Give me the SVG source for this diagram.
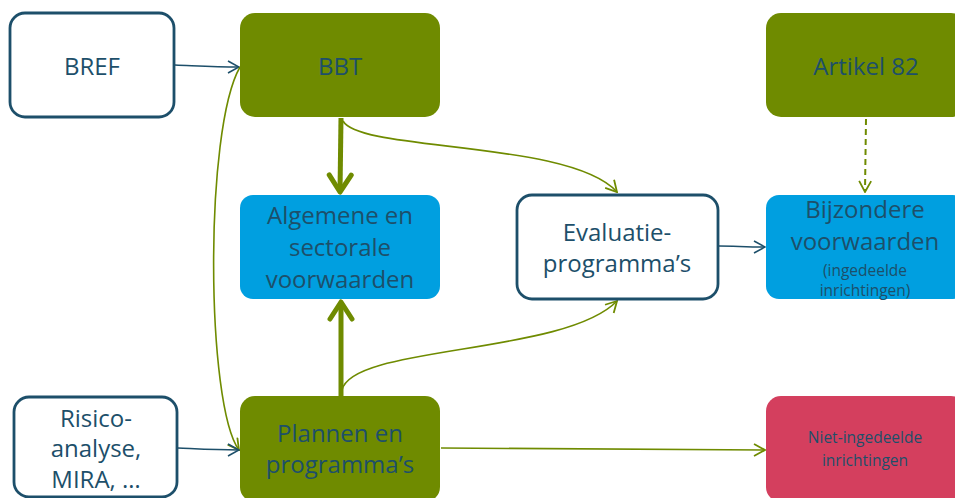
<svg xmlns="http://www.w3.org/2000/svg" width="955" height="498" viewBox="0 0 955 498">
<defs>
<style>
text{font-family:"Open Sans","Noto Sans","Liberation Sans",sans-serif;fill:#1d4f6a;text-anchor:middle}
.big{font-size:24px}
.small{font-size:15.5px}
.white{fill:#ffffff;stroke:#1d4f6a;stroke-width:2.8}
.olive{fill:#6f8b00}
.blue{fill:#009fe0}
.red{fill:#d43f5e}
.cb{fill:none;stroke:#1d4f6a;stroke-width:1.6}
.cg{fill:none;stroke:#6f8b00;stroke-width:1.6}
.cgt{fill:none;stroke:#6f8b00;stroke-width:5}
.cgd{fill:none;stroke:#6f8b00;stroke-width:2;stroke-dasharray:6 4}
</style>
<marker id="ab" viewBox="0 0 14 14" refX="13" refY="7" markerWidth="14" markerHeight="14" markerUnits="userSpaceOnUse" orient="auto"><path d="M2,1 L13,7 L2,13" fill="none" stroke="#1d4f6a" stroke-width="1.6"/></marker>
<marker id="ag" viewBox="0 0 14 14" refX="13" refY="7" markerWidth="14" markerHeight="14" markerUnits="userSpaceOnUse" orient="auto"><path d="M2,1 L13,7 L2,13" fill="none" stroke="#6f8b00" stroke-width="1.8"/></marker>
<marker id="agt" viewBox="0 0 26 28" refX="22" refY="14" markerWidth="26" markerHeight="28" markerUnits="userSpaceOnUse" orient="auto"><path d="M5,3 L22,14 L5,25" fill="none" stroke="#6f8b00" stroke-width="5" stroke-linecap="round" stroke-linejoin="round"/></marker>
</defs>
<g id="connectors">
<path class="cb" d="M175,65 C200,66 215,67 239,67" marker-end="url(#ab)"/>
<path class="cgt" d="M341,118 L340,192" marker-end="url(#agt)"/>
<path class="cgt" d="M341,397 L341,302" marker-end="url(#agt)"/>
<path class="cg" d="M343,121 C360,152 570,140 617,192" marker-end="url(#ag)"/>
<path class="cg" d="M342,390 C352,345 565,355 617,301" marker-end="url(#ag)"/>
<path class="cg" d="M240,67 C204,130 206,405 239,450" marker-end="url(#ag)"/>
<path class="cgd" d="M866,119 L865,192" marker-end="url(#ag)"/>
<path class="cb" d="M719,246 C735,246 745,247 765,247" marker-end="url(#ab)"/>
<path class="cb" d="M178,448 C200,449 215,450 239,450" marker-end="url(#ab)"/>
<path class="cg" d="M441,448 C600,449 700,450 765,450" marker-end="url(#ag)"/>
</g>
<g id="bref"><rect class="white" x="10" y="13" width="164" height="104" rx="15"/><text class="big" x="92" y="75">BREF</text></g>
<g id="bbt"><rect class="olive" x="240" y="13" width="200" height="104" rx="15"/><text class="big" x="340" y="75">BBT</text></g>
<g id="artikel82"><rect class="olive" x="766" y="13" width="200" height="104" rx="15"/><text class="big" x="866" y="75">Artikel 82</text></g>
<g id="algemene"><rect class="blue" x="240" y="195" width="200" height="104" rx="13"/><text class="big" x="340" y="224">Algemene en</text><text class="big" x="340" y="256">sectorale</text><text class="big" x="340" y="288">voorwaarden</text></g>
<g id="evaluatie"><rect class="white" x="517" y="195" width="201" height="104" rx="15"/><text class="big" x="617" y="241">Evaluatie-</text><text class="big" x="617" y="272">programma’s</text></g>
<g id="bijzondere"><rect class="blue" x="766" y="195" width="200" height="104" rx="13"/><text class="big" x="865" y="218">Bijzondere</text><text class="big" x="865" y="250">voorwaarden</text><text class="small" x="865" y="276">(ingedeelde</text><text class="small" x="865" y="296">inrichtingen)</text></g>
<g id="risico"><rect class="white" x="14" y="397" width="163" height="100" rx="15"/><text class="big" x="96" y="427">Risico-</text><text class="big" x="96" y="457">analyse,</text><text class="big" x="96" y="488">MIRA, …</text></g>
<g id="plannen"><rect class="olive" x="240" y="396" width="200" height="106" rx="15"/><text class="big" x="340" y="442">Plannen en</text><text class="big" x="340" y="473">programma’s</text></g>
<g id="niet"><rect class="red" x="766" y="396" width="200" height="106" rx="15"/><text class="small" x="865" y="443">Niet-ingedeelde</text><text class="small" x="865" y="466">inrichtingen</text></g>
</svg>
